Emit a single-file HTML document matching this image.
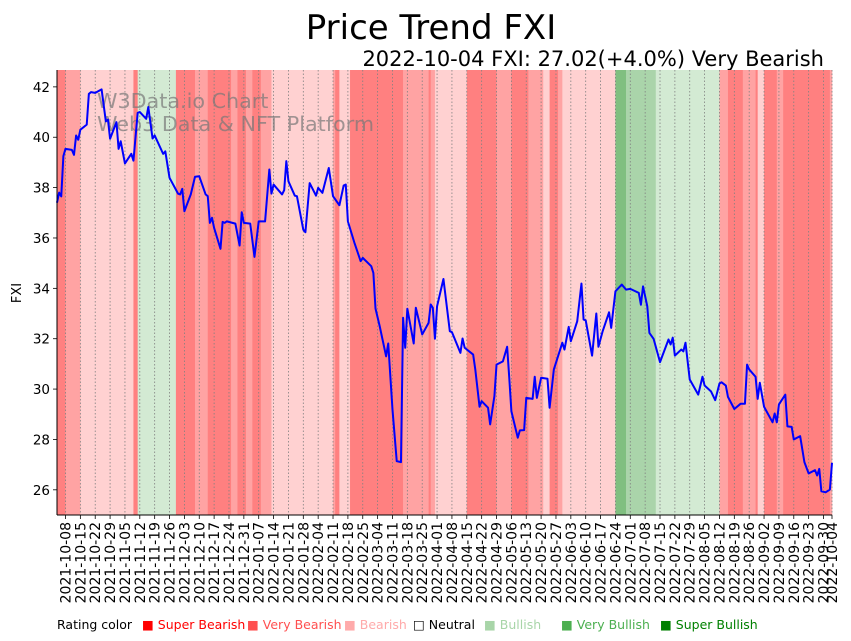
<!DOCTYPE html>
<html><head><meta charset="utf-8"><style>
html,body{margin:0;padding:0;background:#fff;}
svg{display:block;font-family:"Liberation Sans","DejaVu Sans",sans-serif;}
</style></head><body>
<svg id="chart" width="851" height="641" viewBox="0 0 851 641" xmlns="http://www.w3.org/2000/svg">
<text x="431" y="39" font-size="34" text-anchor="middle" font-family="DejaVu Sans, sans-serif">Price Trend FXI</text>
<text x="824" y="66" font-size="21" text-anchor="end" font-family="DejaVu Sans, sans-serif">2022-10-04 FXI: 27.02(+4.0%) Very Bearish</text>
<g id="bands"></g>
<g id="grid"></g>
<text x="97" y="108" font-size="20.7" fill="#777" fill-opacity="0.7" font-family="DejaVu Sans, sans-serif">W3Data.io Chart</text>
<text x="97" y="131" font-size="20.7" fill="#777" fill-opacity="0.7" font-family="DejaVu Sans, sans-serif">Web3 Data &amp; NFT Platform</text>
<g id="series"></g>
<g id="axes"></g>
<text transform="translate(21,293) rotate(-90)" font-size="13" text-anchor="middle" font-family="DejaVu Sans, sans-serif">FXI</text>
<g id="legend" font-size="12.5" font-family="DejaVu Sans, sans-serif">
<text x="57" y="629" fill="#000">Rating color</text>
<text x="142" y="629" fill="#ff0000">■ Super Bearish</text>
<text x="247" y="629" fill="#ff5050">■ Very Bearish</text>
<text x="344" y="629" fill="#ffaaaa">■ Bearish</text>
<text x="413" y="629" fill="#000">□ Neutral</text>
<text x="484" y="629" fill="#a8d5a8">■ Bullish</text>
<text x="561" y="629" fill="#4caf50">■ Very Bullish</text>
<text x="660" y="629" fill="#008000">■ Super Bullish</text>
</g>
</svg>
<script>
// ---- data ----
const startDate = "2021-10-04";
const endDate = "2022-10-04";
// days since startDate for each price point
const days = [0,1,2,3,4,7,8,9,10,11,14,15,16,18,21,23,24,25,28,29,30,32,35,36,38,39,42,43,45,46,50,51,53,57,58,59,60,63,65,67,70,71,72,73,74,77,78,79,80,84,86,87,88,91,93,95,98,100,101,102,106,107,108,109,112,113,116,117,119,122,123,125,128,130,133,135,136,137,140,143,144,148,149,150,152,155,156,158,160,162,163,164,165,168,169,172,175,176,177,178,179,182,185,186,190,191,192,196,197,199,200,203,204,206,207,210,212,213,214,217,218,220,221,224,225,226,228,231,232,234,238,239,241,242,245,247,248,249,252,254,255,257,260,261,263,266,268,270,274,275,276,278,279,281,284,288,289,290,291,294,295,296,298,302,304,305,308,310,312,313,315,316,319,322,324,325,326,329,330,331,333,337,338,339,340,343,344,346,347,350,352,354,357,358,359,360,362,364,365];
const prices = [37.4,37.8,37.65,39.25,39.54,39.5,39.3,40.07,39.9,40.3,40.5,41.72,41.79,41.76,41.9,40.63,40.7,39.94,40.6,39.54,39.84,38.96,39.34,39.07,40.97,41.0,40.73,41.2,39.95,40.07,39.34,39.44,38.39,37.76,37.73,37.95,37.06,37.73,38.43,38.45,37.73,37.66,36.6,36.8,36.4,35.57,36.64,36.6,36.66,36.57,35.7,37.02,36.6,36.57,35.25,36.66,36.66,38.72,37.76,38.12,37.73,37.9,39.05,38.25,37.68,37.66,36.33,36.23,38.18,37.68,37.99,37.79,38.78,37.66,37.3,38.08,38.12,36.66,35.83,35.08,35.21,34.88,34.61,33.2,32.49,31.3,31.81,29.19,27.14,27.1,32.83,31.64,33.19,31.81,33.23,32.17,32.63,33.36,33.23,32.0,33.29,34.37,32.3,32.26,31.44,32.01,31.64,31.37,30.78,29.3,29.52,29.26,28.6,29.72,30.97,31.1,31.68,30.45,29.12,28.07,28.36,28.37,29.65,29.61,30.49,29.65,30.45,30.41,29.26,30.78,31.84,31.57,32.47,31.9,32.69,34.19,32.76,32.73,31.33,33.0,31.68,32.3,33.05,32.43,33.88,34.15,33.95,33.98,33.82,33.35,34.08,33.29,32.23,31.99,31.07,31.97,31.77,32.04,31.33,31.57,31.5,31.84,30.38,29.78,30.49,30.14,29.91,29.56,30.22,30.27,30.14,29.69,29.21,29.42,29.42,30.97,30.78,30.49,29.61,30.25,29.3,28.68,29.03,28.68,29.39,29.78,28.52,28.5,28.0,28.13,27.1,26.65,26.78,26.57,26.83,25.94,25.9,26.01,27.07];
// rating band runs: start date and rating
const bandStarts = ["2021-10-04","2021-10-08","2021-10-15","2021-11-09","2021-11-11","2021-11-29","2021-12-08","2021-12-14","2021-12-25","2021-12-28","2022-01-01","2022-01-04","2022-01-08","2022-01-13","2022-02-11","2022-02-12","2022-02-14","2022-02-19","2022-03-16","2022-03-28","2022-03-29","2022-03-31","2022-04-15","2022-04-29","2022-05-06","2022-05-14","2022-05-21","2022-05-24","2022-05-28","2022-05-30","2022-06-24","2022-06-29","2022-07-13","2022-08-12","2022-08-16","2022-08-23","2022-08-29","2022-08-30","2022-09-02","2022-09-08","2022-09-11","2022-10-03"];
const bandRatings = ["SB","VB","B","SB","BU","SB","VB","SB","VB","SB","VB","SB","VB","B","VB","SB","B","SB","VB","SB","VB","B","SB","VB","SB","VB","B","SB","VB","B","SBU","VBU","BU","VB","SB","VB","SB","B","SB","VB","SB","VB"];
const yTicks = [26,28,30,32,34,36,38,40,42];
const yMin = 25.0, yMax = 42.67;

// ---- scales ----
const NS = "http://www.w3.org/2000/svg";
const PL = 57, PR = 832, PT = 70, PB = 515;
const DAY = 86400000;
const t0 = Date.parse(startDate + "T00:00:00Z"), t1 = Date.parse(endDate + "T00:00:00Z");
const totalDays = (t1 - t0) / DAY;
function xDay(d){ return PL + d * (PR - PL) / totalDays; }
function xDate(s){ return xDay((Date.parse(s + "T00:00:00Z") - t0) / DAY); }
function yVal(v){ return PB - (v - yMin) * (PB - PT) / (yMax - yMin); }
function mk(tag, attrs, parent){ const e = document.createElementNS(NS, tag); for (const k in attrs) e.setAttribute(k, attrs[k]); parent.appendChild(e); return e; }
const bandColors = {SB:"#ff8080", VB:"#ffa3a3", B:"#ffd1d1", BU:"#d3ead3", VBU:"#aad4aa", SBU:"#80bf80"};

// bands
const gB = document.getElementById("bands");
for (let i = 0; i < bandStarts.length; i++){
  const x0 = xDate(bandStarts[i]);
  const x1 = i + 1 < bandStarts.length ? xDate(bandStarts[i+1]) : PR;
  const r = mk("rect", {x:x0, y:PT, width:Math.max(0, x1 - x0 + 0.3), height:PB - PT, fill:bandColors[bandRatings[i]]}, gB);
  
  
}

// x ticks: weekly Fridays + last date
const tickDates = [];
for (let t = Date.parse("2021-10-08T00:00:00Z"); t <= t1; t += 7 * DAY) tickDates.push(new Date(t).toISOString().slice(0,10));
tickDates.push(endDate);
const gG = document.getElementById("grid");
const gA = document.getElementById("axes");
tickDates.forEach(s => {
  const x = xDate(s);
  const gl = mk("line", {x1:x, x2:x, y1:PT, y2:PB, stroke:"#808080", "stroke-width":0.8, "stroke-dasharray":"1.5,2"}, gG);
  
  
  const tk = mk("line", {x1:x, x2:x, y1:PB, y2:PB + 4, stroke:"#000", "stroke-width":0.8}, gA);
  
  
  const lb = mk("text", {transform:"translate(" + (x + 5) + "," + (PB + 7) + ") rotate(-90)", "text-anchor":"end", "font-size":"14", "font-family":"DejaVu Sans, sans-serif"}, gA);
  lb.textContent = s;
  
  
});
yTicks.forEach(v => {
  const y = yVal(v);
  const tk = mk("line", {x1:PL - 4, x2:PL, y1:y, y2:y, stroke:"#000", "stroke-width":0.8}, gA);
  
  
  const lb = mk("text", {x:PL - 7, y:y + 5, "text-anchor":"end", "font-size":"13.5", "font-family":"DejaVu Sans, sans-serif"}, gA);
  lb.textContent = v;
  
  
});
const sl = mk("line", {x1:PL, x2:PL, y1:PT, y2:PB, stroke:"#000", "stroke-width":1}, gA);


const sb = mk("line", {x1:PL, x2:PR, y1:PB, y2:PB, stroke:"#000", "stroke-width":1}, gA);



// price line
const gS = document.getElementById("series");
const pts = days.map((d, i) => xDay(d).toFixed(2) + "," + yVal(prices[i]).toFixed(2)).join(" ");
const pl = mk("polyline", {points:pts, fill:"none", stroke:"#0000ff", "stroke-width":2, "stroke-linejoin":"round"}, gS);


</script>
</body></html>
